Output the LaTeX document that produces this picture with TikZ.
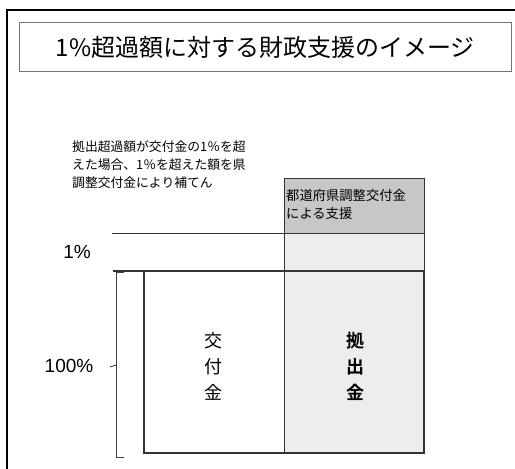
\documentclass[tikz,border=0pt]{standalone}
\usepackage{fontspec}
\setmainfont{Liberation Sans}
\newfontfamily\jp{Noto Sans CJK JP}
\newfontfamily\jpb{Noto Sans CJK JP Bold}
\begin{document}
\begin{tikzpicture}[x=1pt,y=-1pt,
  frame/.style={line width=1.8pt},
  boxline/.style={line width=1pt, draw=black!80},
  note/.style={font=\jp\fontsize{12.8}{18}\selectfont, align=left, inner sep=0},
  pct/.style={font=\fontsize{19}{20}\selectfont, inner sep=0},
  vtext/.style={font=\jp\fontsize{18}{26}\selectfont, align=center, inner sep=0}]
\useasboundingbox[fill=white] (0,0) rectangle (515,469);
% outer frame
\draw[frame] (7,469) -- (7,10) -- (515,10);
% title
\node[draw=black!55, line width=0.9pt, minimum width=492pt, minimum height=49pt, anchor=north west, inner sep=0] (title) at (19,22) {};
\node[font=\jp\fontsize{24}{28}\selectfont, inner sep=0] (titletext) at (title.center) {1\%超過額に対する財政支援のイメージ};
% shaded regions
\fill[black!22] (284,178) rectangle (424,233);
\fill[black!7] (284,233) rectangle (424,453);
% lines
\draw[boxline] (284,178) rectangle (424,233);
\draw[boxline] (112,233) -- (424,233);
\draw[boxline] (424,233) -- (424,271);
\draw[boxline] (284,233) -- (284,271);
\draw[boxline, line width=1.2pt] (113,271) -- (424,271);
\draw[boxline, line width=1.2pt] (144,271) rectangle (424,453);
\draw[boxline] (284,271) -- (284,453);
% bracket
\draw[line width=0.8pt, black!75] (124,272) -- (116,272) -- (116,457) -- (124,457);
\draw[line width=0.8pt, black!75] (116,365) -- (110,367);
% texts
\node[note, anchor=north west] (note) at (72,140) {拠出超過額が交付金の1％を超\\えた場合、1％を超えた額を県\\調整交付金により補てん};
\node[font=\jp\fontsize{13.3}{18}\selectfont, align=left, inner sep=0, anchor=north west] (support) at (286,189) {都道府県調整交付金\\による支援};
\node[pct] (p1) at (77,252) {1\%};
\node[pct] (p100) at (69,366) {100\%};
\node[vtext] (koufu) at (213,366) {交\\付\\金};
\node[vtext, font=\jpb\fontsize{18}{26}\selectfont] (kyoshutsu) at (355,366) {拠\\出\\金};
\end{tikzpicture}
\end{document}
